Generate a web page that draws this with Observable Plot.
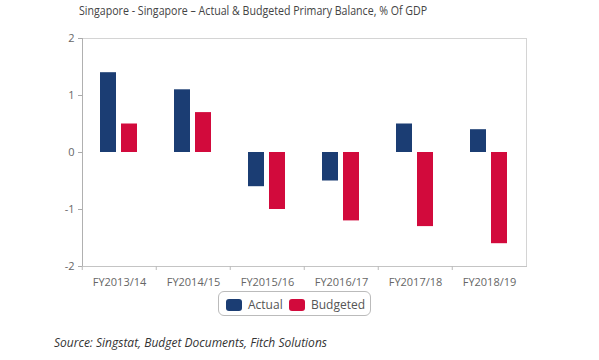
<!DOCTYPE html>
<html>
<head>
<meta charset="utf-8">
<script src="https://cdn.jsdelivr.net/npm/d3@7"></script>
<script src="https://cdn.jsdelivr.net/npm/@observablehq/plot@0.6"></script>
<style>
  body { margin: 0; background: #fff; font-family: "Open Sans", "Noto Sans", sans-serif; }
  #wrap { position: relative; width: 599px; height: 360px; overflow: hidden; }
  #title { position: absolute; left: 79px; top: 2px; font-size: 12.5px; color: #444; white-space: nowrap; transform-origin: 0 0; transform: scaleX(0.85); }
  #chart { position: absolute; left: 0; top: 25px; }
  #legend { position: absolute; left: 218px; top: 291px; width: 151px; height: 23px; border: 1px solid #bbb; border-radius: 6px; box-sizing: content-box; font-size: 12px; color: #555; }
  .item { position: absolute; top: 4px; display: flex; align-items: center; }
  .sw { width: 16px; height: 12px; border-radius: 3px; margin-right: 6px; }
  #source { position: absolute; left: 54px; top: 334px; font-size: 12px; font-style: italic; color: #333; white-space: nowrap; }
</style>
</head>
<body>
<div id="wrap">
  <div id="title">Singapore - Singapore – Actual &amp; Budgeted Primary Balance, % Of GDP</div>
  <div id="chart"></div>
  <div id="legend"></div>
  <div id="source">Source: Singstat, Budget Documents, Fitch Solutions</div>
</div>
<script>
const years = ["FY2013/14", "FY2014/15", "FY2015/16", "FY2016/17", "FY2017/18", "FY2018/19"];
const series = ["Actual", "Budgeted"];
const actual = [1.4, 1.1, -0.6, -0.5, 0.5, 0.4];
const budgeted = [0.5, 0.7, -1.0, -1.2, -1.3, -1.6];
const colors = ["#1b3d73", "#d20a3c"];
const yTicks = [-2, -1, 0, 1, 2];

const data = [];
years.forEach((y, i) => {
  data.push({year: y, series: series[0], value: actual[i]});
  data.push({year: y, series: series[1], value: budgeted[i]});
});

const W = 599, H = 275;
const mL = 80, mR = 72, mT = 13, mB = 34;
const step = (W - mL - mR) / years.length;

const chart = Plot.plot({
  width: W,
  height: H,
  marginLeft: mL,
  marginRight: mR,
  marginTop: mT,
  marginBottom: mB,
  style: {fontFamily: "'Open Sans', 'Noto Sans', sans-serif", fontSize: "11px", color: "#666", background: "white"},
  fx: {domain: years, padding: 0, label: null, axis: null},
  x: {domain: series, paddingInner: 0.227, paddingOuter: 0.807, axis: null},
  y: {domain: [-2, 2], ticks: yTicks, label: null, axis: null},
  color: {domain: series, range: colors},
  marks: [
    Plot.frame({stroke: "#d4d4d4", facet: "super"}),
    Plot.barY(data, {fx: "year", x: "series", y: "value", fill: "series"}),
    Plot.frame({anchor: "left", stroke: "#b0b0b0", facet: "super"}),
    Plot.frame({anchor: "bottom", stroke: "#c4c4c4", facet: "super"}),
    Plot.axisY({ticks: yTicks, tickFormat: d => String(d), tickSize: 4, tickPadding: 4, stroke: "#aaa", fill: "#666", label: null}),
    Plot.axisFx({anchor: "bottom", tickSize: 0, tickPadding: 12, fill: "#666", label: null}),
    Plot.axisFx({anchor: "bottom", tickSize: 4, text: null, dx: -step / 2, stroke: "#bbb", label: null})
  ]
});
document.getElementById("chart").appendChild(chart);

const legend = document.getElementById("legend");
const lefts = [7, 70];
series.forEach((s, i) => {
  const it = document.createElement("div");
  it.className = "item";
  it.style.left = lefts[i] + "px";
  const sw = document.createElement("div");
  sw.className = "sw";
  sw.style.background = colors[i];
  const t = document.createElement("span");
  t.textContent = s;
  it.appendChild(sw);
  it.appendChild(t);
  legend.appendChild(it);
});
</script>
</body>
</html>
